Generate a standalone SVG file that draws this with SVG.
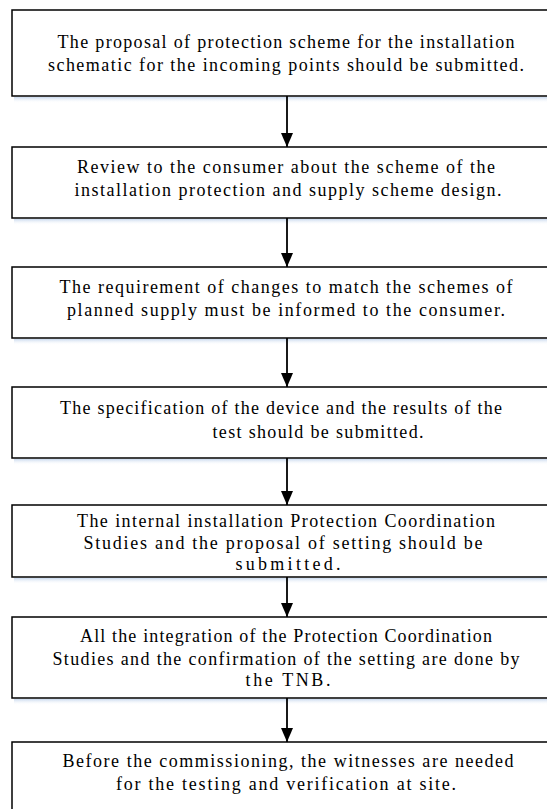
<svg xmlns="http://www.w3.org/2000/svg" width="547" height="809" viewBox="0 0 547 809">
<defs>
<linearGradient id="sh" x1="0" y1="0" x2="0" y2="1">
<stop offset="0" stop-color="#c9d9ee"/>
<stop offset="1" stop-color="#ffffff" stop-opacity="0"/>
</linearGradient>
<marker id="ah" markerWidth="14" markerHeight="12" refX="14" refY="6" orient="auto" markerUnits="userSpaceOnUse" viewBox="0 0 14 12">
<path d="M0,0 L14,6 L0,12 Z" fill="#000"/>
</marker>
<style>
.box{fill:#fff;stroke:#000;stroke-width:1.5}
.shadow{fill:url(#sh)}
.t{font-size:18px;fill:#000;text-anchor:middle}
.c{stroke:#000;stroke-width:1.8;fill:none}
</style>
</defs>
<rect width="547" height="809" fill="#fff"/>
<g font-family="'Liberation Serif', Tinos, 'Times New Roman', Times, 'Nimbus Roman', 'Noto Serif', 'DejaVu Serif', serif">
<g id="n1">
<rect class="shadow" x="14" y="97" width="560" height="6"/>
<rect class="box" x="12" y="10" width="550" height="86"/>
<text class="t" x="286" y="48" textLength="457" lengthAdjust="spacing">The proposal of protection scheme for the  installation</text>
<text class="t" x="286" y="71" textLength="476" lengthAdjust="spacing">schematic for the incoming points  should be submitted.</text>
</g>
<g id="n2">
<rect class="shadow" x="14" y="219" width="560" height="6"/>
<rect class="box" x="12" y="147" width="550" height="71"/>
<text class="t" x="286" y="173" textLength="418" lengthAdjust="spacing">Review to the consumer about the scheme of  the</text>
<text class="t" x="288" y="196" textLength="427" lengthAdjust="spacing">installation protection and supply scheme design.</text>
</g>
<g id="n3">
<rect class="shadow" x="14" y="339" width="560" height="6"/>
<rect class="box" x="12" y="267" width="550" height="71"/>
<text class="t" x="286" y="293" textLength="453" lengthAdjust="spacing">The requirement of changes to match the  schemes of</text>
<text class="t" x="286" y="316" textLength="438" lengthAdjust="spacing">planned supply must be informed to  the consumer.</text>
</g>
<g id="n4">
<rect class="shadow" x="14" y="459" width="560" height="6"/>
<rect class="box" x="12" y="387" width="550" height="71"/>
<text class="t" x="281" y="414" textLength="442" lengthAdjust="spacing">The specification of the device and the results  of the</text>
<text class="t" x="318" y="438" textLength="211" lengthAdjust="spacing">test should be submitted.</text>
</g>
<g id="n5">
<rect class="shadow" x="14" y="578" width="560" height="6"/>
<rect class="box" x="12" y="505" width="550" height="72"/>
<text class="t" x="286" y="527" textLength="418" lengthAdjust="spacing">The internal installation Protection  Coordination</text>
<text class="t" x="283" y="549" textLength="399" lengthAdjust="spacing">Studies and the proposal of  setting should be</text>
<text class="t" x="288" y="570" textLength="105" lengthAdjust="spacing">submitted.</text>
</g>
<g id="n6">
<rect class="shadow" x="14" y="699" width="560" height="6"/>
<rect class="box" x="12" y="617" width="550" height="81"/>
<text class="t" x="286" y="642" textLength="412" lengthAdjust="spacing">All the integration of the Protection  Coordination</text>
<text class="t" x="286" y="665" textLength="467" lengthAdjust="spacing">Studies and the confirmation of  the setting are done by</text>
<text class="t" x="288" y="686" textLength="85" lengthAdjust="spacing">the TNB.</text>
</g>
<g id="n7">
<rect class="box" x="12" y="742" width="550" height="80"/>
<text class="t" x="288" y="767" textLength="451" lengthAdjust="spacing">Before the commissioning, the witnesses are  needed</text>
<text class="t" x="286" y="790" textLength="340" lengthAdjust="spacing">for the testing and verification at site.</text>
</g>
</g>
<g id="connectors">
<line class="c" x1="287" y1="96" x2="287" y2="147" marker-end="url(#ah)"/>
<line class="c" x1="287" y1="218" x2="287" y2="267" marker-end="url(#ah)"/>
<line class="c" x1="287" y1="338" x2="287" y2="387" marker-end="url(#ah)"/>
<line class="c" x1="287" y1="458" x2="287" y2="505" marker-end="url(#ah)"/>
<line class="c" x1="287" y1="577" x2="287" y2="617" marker-end="url(#ah)"/>
<line class="c" x1="287" y1="698" x2="287" y2="742" marker-end="url(#ah)"/>
</g>
</svg>
